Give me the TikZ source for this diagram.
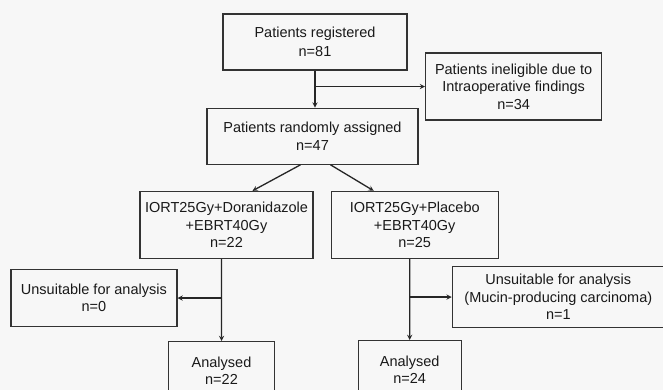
\documentclass[tikz,border=0pt]{standalone}
\usepackage{fontspec}
\setmainfont{Liberation Sans}
\usepackage{tikz}
\usetikzlibrary{shapes,arrows,positioning,calc}

\begin{document}
\begin{tikzpicture}[
    node distance=20pt,
    stage/.style={rectangle, draw=black!80, line width=1.2pt, align=center, inner sep=2pt, text=black!90, font=\fontsize{14.5}{17.5}\selectfont},
    arrow/.style={->, >=stealth, line width=1.3pt, draw=black!85},
    link/.style={line width=1.3pt, draw=black!85}
]
    \useasboundingbox (0,0) rectangle (663pt,-390pt);
    \clip (0,0) rectangle (663pt,-390pt);
    \fill[black!3] (0,0) rectangle (663pt,-390pt);

    % Enrolment
    \node[stage, minimum width=184pt, minimum height=56pt] (registered) at (315pt,-42pt) {Patients registered\\[2pt]n=81};
    \node[stage, minimum width=211pt, minimum height=56pt, below=37pt of registered, xshift=-2.5pt] (assigned) {Patients randomly assigned\\n=47};
    \coordinate (split) at ($(registered.south)!0.43!(registered.south |- assigned.north)$);
    \node[stage, minimum width=176pt, minimum height=67pt, right=110pt of split] (ineligible) {Patients ineligible due to\\Intraoperative findings\\n=34};

    % Arms
    \node[stage, minimum width=173pt, minimum height=67pt, below=26pt of assigned, xshift=-86pt] (doran) {IORT25Gy+Doranidazole\\+EBRT40Gy\\n=22};
    \node[stage, minimum width=167pt, minimum height=67pt, right=17pt of doran] (placebo) {IORT25Gy+Placebo\\+EBRT40Gy\\n=25};

    % Analysis
    \node[stage, minimum width=106pt, minimum height=58pt, below=82pt of doran, xshift=-5pt] (analysedA) {Analysed\\n=22};
    \node[stage, minimum width=103pt, minimum height=58pt, below=81pt of placebo, xshift=-5pt] (analysedB) {Analysed\\n=24};
    \coordinate (splitA) at ($(doran.south -| analysedA.north)!0.476!(analysedA.north)$);
    \coordinate (splitB) at ($(placebo.south -| analysedB.north)!0.47!(analysedB.north)$);
    \node[stage, minimum width=166pt, minimum height=57pt, left=44pt of splitA] (unsuitA) {Unsuitable for analysis\\n=0};
    \node[stage, minimum width=212pt, minimum height=61pt, right=42pt of splitB] (unsuitB) {Unsuitable for analysis\\(Mucin-producing carcinoma)\\n=1};

    % Arrows
    \draw[link] (registered.south) -- (split);
    \draw[arrow] (split) -- (registered.south |- assigned.north);
    \draw[arrow] (split) -- (ineligible.west);
    \draw[arrow] ($(assigned.south)+(-12pt,0)$) -- ($(doran.north)+(26pt,0)$);
    \draw[arrow] ($(assigned.south)+(18pt,0)$) -- ($(placebo.north)+(-41pt,0)$);
    \draw[link] (doran.south -| analysedA.north) -- (splitA);
    \draw[arrow] (splitA) -- (analysedA.north);
    \draw[arrow] (splitA) -- (unsuitA.east);
    \draw[link] (placebo.south -| analysedB.north) -- (splitB);
    \draw[arrow] (splitB) -- (analysedB.north);
    \draw[arrow] (splitB) -- (unsuitB.west);
\end{tikzpicture}
\end{document}
